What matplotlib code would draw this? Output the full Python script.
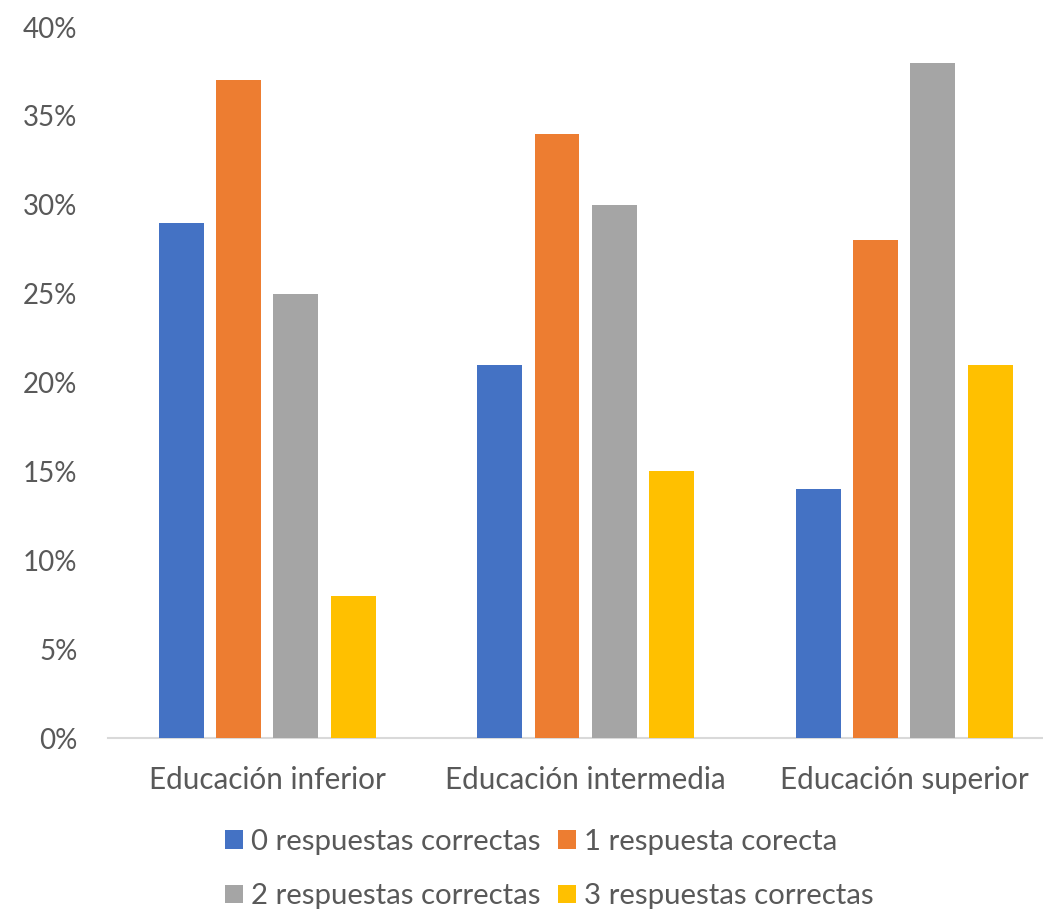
import matplotlib.pyplot as plt
import numpy as np
from matplotlib.ticker import PercentFormatter

# Porcentaje de respuestas correctas por nivel educativo
categories = ["Educación inferior", "Educación intermedia", "Educación superior"]
series = [
    "0 respuestas correctas",
    "1 respuesta corecta",
    "2 respuestas correctas",
    "3 respuestas correctas",
]
values = [
    [29, 21, 14],
    [37, 34, 28],
    [25, 30, 38],
    [8, 15, 21],
]
colors = ["#4472c4", "#ed7d31", "#a5a5a5", "#ffc000"]
yticks = [0, 5, 10, 15, 20, 25, 30, 35, 40]

plt.rcParams["font.family"] = ["Lato", "DejaVu Sans"]
text_color = "#595959"

fig = plt.figure(figsize=(10.43, 9.10), dpi=100)
ax = fig.add_axes([108 / 1043, 0.189, 1 - 108 / 1043, 0.7813])

x = np.arange(len(categories))
width = 0.141
offsets = [-0.27, -0.09, 0.09, 0.27]
bars = []
for vals, off, col, name in zip(values, offsets, colors, series):
    b = ax.bar(x + off, vals, width, color=col, label=name, zorder=3)
    bars.append(b)

ax.set_xlim(-0.5, 2.436)
ax.set_ylim(0, 40)
ax.set_yticks(yticks)
ax.yaxis.set_major_formatter(PercentFormatter(decimals=0))
ax.set_xticks(x)
ax.set_xticklabels(categories)

for side in ["left", "right", "top"]:
    ax.spines[side].set_visible(False)
ax.spines["bottom"].set_color("#d9d9d9")
ax.spines["bottom"].set_linewidth(1.5)

ax.tick_params(axis="y", length=0, pad=22, labelsize=20, labelcolor=text_color)
ax.tick_params(axis="x", length=0, pad=20, labelsize=21.3, labelcolor=text_color)

# leyenda en dos filas: 0 y 1 arriba, 2 y 3 abajo
order = [0, 2, 1, 3]
leg = fig.legend(
    [bars[i] for i in order],
    [series[i] for i in order],
    ncol=2,
    loc="upper left",
    bbox_to_anchor=(225 / 1043, 1 - 829 / 910),
    frameon=False,
    fontsize=21.2,
    borderpad=0,
    borderaxespad=0,
    handlelength=0.6,
    handleheight=0.6,
    handletextpad=0.28,
    columnspacing=0.6,
    labelspacing=0.96,
)
for t in leg.get_texts():
    t.set_color(text_color)

fig.savefig("out.png", dpi=100)
